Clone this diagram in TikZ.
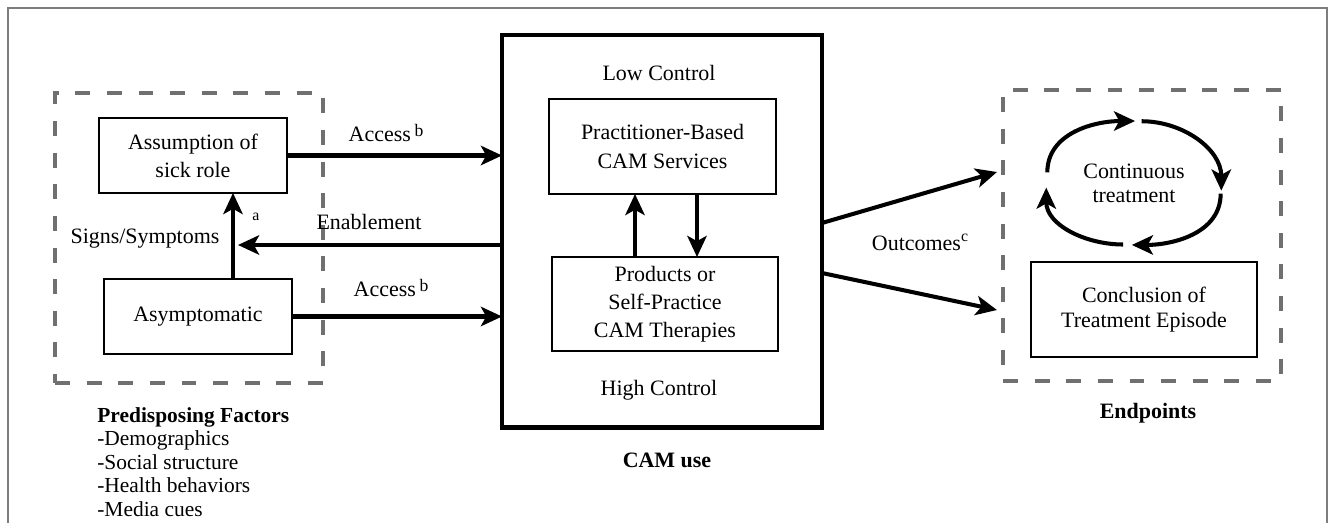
\documentclass[tikz,border=0pt]{standalone}
\usepackage{fontspec}
\setmainfont{Liberation Serif}
\usetikzlibrary{arrows.meta, shapes.geometric}
\definecolor{framegray}{RGB}{125,125,125}
\definecolor{dashgray}{RGB}{112,112,112}
\newcommand{\diagfont}{\fontsize{12.5}{16}\selectfont}
\newcommand{\supfont}{\fontsize{10}{12}\selectfont}

\begin{document}
\begin{tikzpicture}[x=0.02cm, y=-0.02cm,
    every node/.style={font=\diagfont},
    box/.style={draw, line width=0.9pt, align=center, inner sep=0pt, outer sep=0pt},
    group/.style={draw=dashgray, line width=2pt, dash pattern=on 8.5pt off 9.5pt,
      inner sep=0pt, outer sep=0pt},
    camframe/.style={draw, line width=2.8pt, inner sep=0pt, outer sep=0pt},
    arr/.style={line width=2.3pt, -{Stealth[length=12pt, width=11pt, inset=3pt]}},
    lbl/.style={inner sep=0pt, align=center}]
  \useasboundingbox (0,0) rectangle (1330,523);
  \draw[framegray, line width=0.6pt] (8,523) -- (8,8) -- (1327,8) -- (1327,523);

  % dashed groups
  \node[group, minimum width=5.36cm, minimum height=5.8cm] (predbox) at (189,238) {};
  \node[group, minimum width=5.56cm, minimum height=5.82cm] (endbox) at (1142,235.5) {};

  % predisposing side
  \node[box, minimum width=3.76cm, minimum height=1.5cm] (sick) at (193,155.5) {Assumption of\\sick role};
  \node[box, minimum width=3.76cm, minimum height=1.5cm] (asym) at (198,316.5) {Asymptomatic};
  \node[lbl] (signs) at (145,239) {Signs/Symptoms};
  \node[lbl, font=\fontsize{9}{11}\selectfont] (alabel) at (256,217) {a};
  \node[lbl, anchor=north west, align=left, font=\fontsize{12.2}{13.4}\selectfont] (predlbl) at (97,407)
    {\textbf{Predisposing Factors}\\-Demographics\\-Social structure\\-Health behaviors\\-Media cues};

  % CAM use
  \node[camframe, minimum width=6.4cm, minimum height=7.86cm] (cam) at (662,231.5) {};
  \node[lbl] (lowctl) at (659,73) {Low Control};
  \node[box, minimum width=4.54cm, minimum height=1.9cm] (prac) at (662.5,146.5) {Practitioner-Based\\CAM Services};
  \node[box, minimum width=4.52cm, minimum height=1.88cm] (prod) at (665,304) {Products or\\Self-Practice\\CAM Therapies};
  \node[lbl] (highctl) at (659,390) {High Control};
  \node[lbl, font=\diagfont\bfseries] (camuse) at (667,460) {CAM use};

  % endpoints
  \node[ellipse, inner sep=0pt, outer sep=0pt, minimum width=3.52cm, minimum height=2.48cm,
    align=center, font=\fontsize{12.5}{13.8}\selectfont] (cont) at (1134,183) {Continuous\\treatment};
  \node[box, minimum width=4.52cm, minimum height=1.9cm, font=\fontsize{12.5}{13.8}\selectfont] (concl)
    at (1144,309.5) {Conclusion of\\Treatment Episode};
  \node[lbl, font=\diagfont\bfseries] (endlbl) at (1148,413) {Endpoints};

  % connectors
  \coordinate (symx) at (233,0);
  \coordinate (enab) at (238,245);
  \coordinate (upx) at (635,0);
  \coordinate (dnx) at (697,0);
  \coordinate (outa) at (997,172);
  \coordinate (outb) at (997,310);

  \draw[arr] (sick.east) -- (sick.east -| cam.west);
  \draw[arr] (asym.east) -- (asym.east -| cam.west);
  \draw[arr] (enab -| cam.west) -- (enab);
  \draw[arr] (asym.north -| symx) -- (sick.south -| symx);
  \draw[arr] (prod.north -| upx) -- (prac.south -| upx);
  \draw[arr] (prac.south -| dnx) -- (prod.north -| dnx);
  \draw[arr] ([yshift=0.17cm]cam.east) -- (outa);
  \draw[arr] ([yshift=-0.83cm]cam.east) -- (outb);

  \draw[arr] (cont.173) to[out=90, in=180] (cont.89);
  \draw[arr] (cont.83) to[out=0, in=90] (cont.-5);
  \draw[arr] (cont.-7) to[out=-90, in=0] (cont.-92);
  \draw[arr] (cont.-100) to[out=180, in=-90] (cont.183);

  \node[lbl] (acctop) at (386,133) {Access\,\raisebox{0.45ex}{\supfont b}};
  \node[lbl] (accbot) at (391,288) {Access\,\raisebox{0.45ex}{\supfont b}};
  \node[lbl] (enlbl) at (369,222) {Enablement};
  \node[lbl] (outlbl) at (920,242) {Outcomes\raisebox{0.9ex}{\fontsize{9}{11}\selectfont c}};
\end{tikzpicture}
\end{document}
